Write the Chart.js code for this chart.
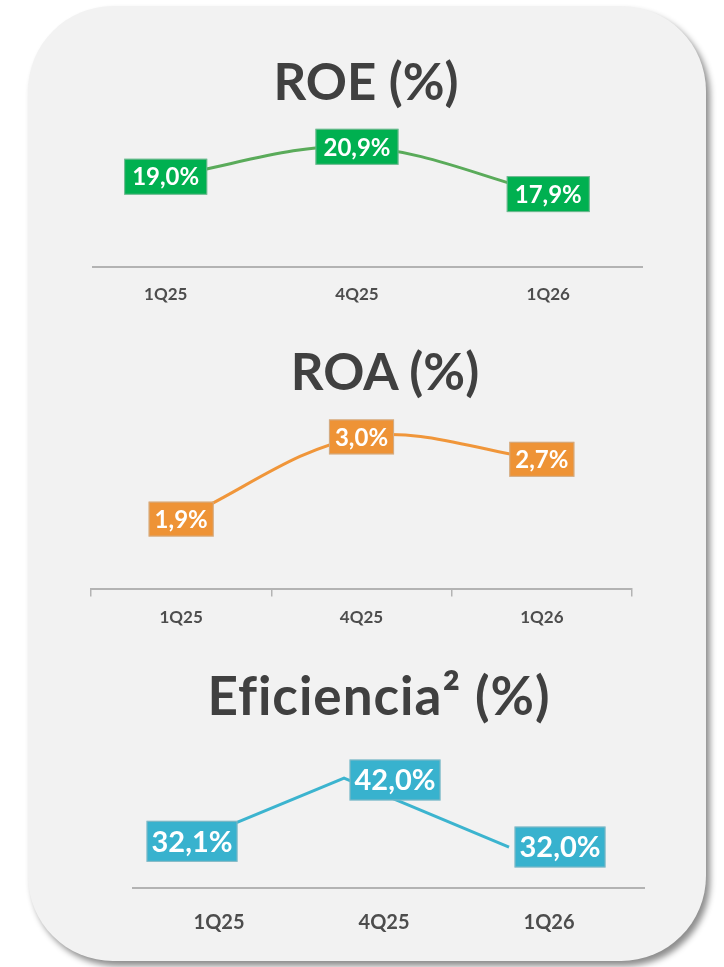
<!DOCTYPE html>
<html lang="es">
<head>
<meta charset="utf-8">
<script src="https://cdn.jsdelivr.net/npm/chart.js@4.4.1/dist/chart.umd.min.js"></script>
<style>
    html, body { margin: 0; padding: 0; background: #fff; width: 724px; height: 967px; overflow: hidden; }
    #tarjeta {
        position: absolute; left: 28px; top: 6px; width: 678px; height: 955px;
        border-radius: 85px; background: #f2f2f2;
        box-shadow: 4px 5px 6px rgba(0, 0, 0, 0.45);
    }
    .titulo {
        position: absolute; margin: 0; width: 400px; text-align: center;
        font-family: Lato, sans-serif; font-weight: 700; font-size: 51px; line-height: 1;
        color: #404040; white-space: nowrap;
    }
    canvas { position: absolute; left: 28px; }
</style>
</head>
<body>
<div id="tarjeta"></div>

<h2 class="titulo" style="left:166px; top:55px;">ROE (%)</h2>
<canvas id="graficoRoe" width="678" height="217" style="top:110px;"></canvas>

<h2 class="titulo" style="left:185px; top:345px;">ROA (%)</h2>
<canvas id="graficoRoa" width="678" height="243" style="top:400px;"></canvas>

<h2 class="titulo" style="left:179px; top:668px; font-size:53px; letter-spacing:1px;">Eficiencia² (%)</h2>
<canvas id="graficoEficiencia" width="678" height="222" style="top:740px;"></canvas>

<script>
const trimestres = ['1Q25', '4Q25', '1Q26'];
const roe = [19.0, 20.9, 17.9];
const roa = [1.9, 3.0, 2.7];
const eficiencia = [32.1, 42.0, 32.0];

// dibuja la etiqueta de cada punto como una caja de color con el valor
const etiquetasPlugin = {
    id: 'etiquetas',
    afterDatasetsDraw(chart, args, opts) {
        const ctx = chart.ctx;
        const meta = chart.getDatasetMeta(0);
        const valores = chart.data.datasets[0].data;
        ctx.save();
        ctx.font = `bold ${opts.tamano}px Lato`;
        ctx.textAlign = 'center';
        ctx.textBaseline = 'middle';
        meta.data.forEach((punto, i) => {
            const v = typeof valores[i] === 'object' ? valores[i].y : valores[i];
            const texto = v.toFixed(1).replace('.', ',') + '%';
            const desp = opts.desplazamientos ? opts.desplazamientos[i] : [0, 0];
            const x = punto.x + desp[0];
            const y = punto.y + desp[1];
            const ancho = ctx.measureText(texto).width + opts.padX * 2;
            ctx.fillStyle = opts.fondo;
            ctx.fillRect(x - ancho / 2, y - opts.alto / 2, ancho, opts.alto);
            ctx.strokeStyle = 'rgba(190,190,190,0.6)';
            ctx.lineWidth = 1;
            ctx.strokeRect(x - ancho / 2 + 0.5, y - opts.alto / 2 + 0.5, ancho - 1, opts.alto - 1);
            ctx.fillStyle = '#fff';
            ctx.fillText(texto, x, y + 1);
        });
        ctx.restore();
    }
};

function ejeLineal(min, max, tamano, padding, desplazamiento) {
    return {
        type: 'linear',
        min: min,
        max: max,
        afterBuildTicks: scale => { scale.ticks = trimestres.map((t, i) => ({ value: i })); },
        grid: { display: false, drawTicks: false },
        border: { display: true, color: '#b3b3b3', width: 2 },
        ticks: {
            padding: padding,
            labelOffset: desplazamiento,
            color: '#4d4d4d',
            font: { family: 'Lato', weight: 'bold', size: tamano },
            callback: v => trimestres[v]
        }
    };
}

function crearGrafico(id, cfg) {
    return new Chart(document.getElementById(id), {
        type: 'line',
        data: {
            labels: trimestres,
            datasets: [{
                data: cfg.datos,
                borderColor: cfg.colorLinea,
                borderWidth: 3,
                tension: cfg.tension,
                pointRadius: 0,
                fill: false
            }]
        },
        options: {
            responsive: false,
            animation: false,
            layout: { padding: cfg.padding },
            plugins: {
                legend: { display: false },
                tooltip: { enabled: false },
                etiquetas: cfg.etiquetas
            },
            scales: {
                x: cfg.ejeX,
                y: { display: false, min: cfg.yMin, max: cfg.yMax }
            }
        },
        plugins: [etiquetasPlugin]
    });
}

crearGrafico('graficoRoe', {
    datos: roe.map((v, i) => ({ x: i, y: v })),
    colorLinea: '#5aab5a',
    tension: 0.35,
    padding: { left: 65, right: 64, top: 10, bottom: 4 },
    yMin: 13.3,
    yMax: 22.6,
    ejeX: ejeLineal(-0.38, 2.49, 17, 18, 0),
    etiquetas: { fondo: '#00b050', tamano: 24, padX: 8, alto: 36 }
});

crearGrafico('graficoRoa', {
    datos: roa,
    colorLinea: '#f0963a',
    tension: 0.35,
    padding: { left: 63, right: 74, top: 10, bottom: 4 },
    yMin: 0.97,
    yMax: 3.36,
    ejeX: {
        type: 'category',
        offset: true,
        grid: { display: true, drawOnChartArea: false, drawTicks: true, tickLength: 8, offset: true, color: '#b3b3b3', lineWidth: 1.5 },
        border: { display: true, color: '#b3b3b3', width: 2 },
        ticks: { padding: 11, color: '#4d4d4d', font: { family: 'Lato', weight: 'bold', size: 17 } }
    },
    etiquetas: { fondo: '#ee9336', tamano: 24, padX: 6, alto: 35 }
});

crearGrafico('graficoEficiencia', {
    datos: eficiencia.map((v, i) => ({ x: i, y: v })),
    colorLinea: '#3cb4cf',
    tension: 0,
    padding: { left: 105, right: 62, top: 10, bottom: 4 },
    yMin: 26.06,
    yMax: 46.06,
    ejeX: ejeLineal(-0.279, 2.818, 20, 23, 40),
    etiquetas: { fondo: '#38b2ce', tamano: 29, padX: 5, alto: 41, desplazamientos: [[13, -5], [51, 2], [51, 0]] }
});
</script>
</body>
</html>
